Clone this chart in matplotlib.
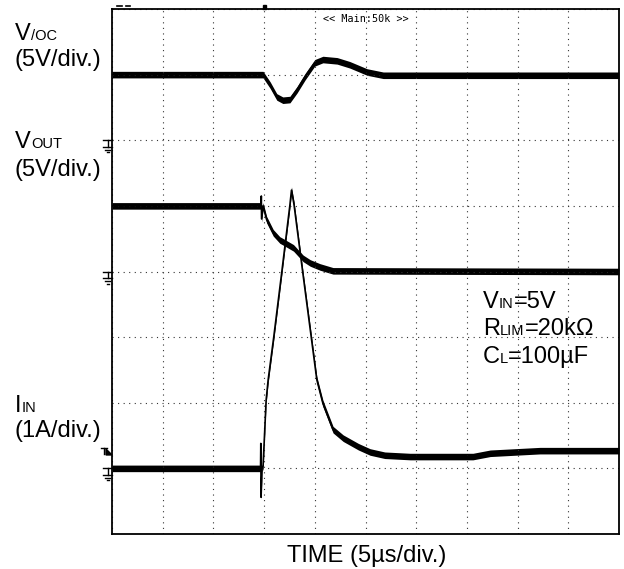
import numpy as np
import matplotlib.pyplot as plt
from matplotlib.lines import Line2D
from matplotlib.patches import Polygon
from matplotlib.transforms import IdentityTransform

plt.rcParams['font.family'] = ['Liberation Sans', 'DejaVu Sans']

# time in screen divisions (5us/div), amplitude in screen divisions from bottom
voc_t = [0, 2.98, 3.12, 3.25, 3.37, 3.51, 3.65, 3.81, 4.0, 4.16, 4.44, 4.69, 5.03, 5.35, 10]
voc_v = [7.0, 7.0, 6.84, 6.66, 6.61, 6.62, 6.77, 6.97, 7.18, 7.23, 7.21, 7.15, 7.04, 6.99, 6.99]

vout_t = [0, 2.94, 2.945, 2.95, 2.98, 3.05, 3.18, 3.31, 3.38, 3.58, 3.77, 3.91, 4.1, 4.36, 10]
vout_v = [5.0, 5.0, 5.15, 4.8, 5.0, 4.79, 4.59, 4.48, 4.45, 4.36, 4.2, 4.13, 4.07, 4.01, 4.0]

iin_t = [0, 2.93, 2.935, 2.94, 2.96, 2.98, 3.04, 3.08, 3.19, 3.35, 3.51, 3.54, 3.59, 3.76,
         4.04, 4.16, 4.36, 4.56, 4.86, 5.09, 5.38, 5.88, 7.12, 7.46, 8.44, 10]
iin_v = [1.0, 1.0, 1.38, 0.56, 1.0, 1.04, 2.04, 2.35, 3.0, 4.0, 5.02, 5.24, 5.02, 4.0,
         2.35, 1.99, 1.59, 1.46, 1.33, 1.25, 1.2, 1.18, 1.18, 1.23, 1.27, 1.27]

ground_levels = [6, 4, 1]   # VOC, VOUT, IIN ground markers
trig_level = 1.25
trig_time = 3.0

W, H = 624, 569
fig = plt.figure(figsize=(W / 100, H / 100), dpi=100)
ax = fig.add_axes([112 / W, 1 - 534 / H, 507 / W, 525 / H])
ax.set_xlim(0, 10)
ax.set_ylim(0, 8)
ax.set_xticks(range(11))
ax.set_yticks(range(9))
ax.tick_params(length=0, labelbottom=False, labelleft=False)
ax.grid(True, color='#333333', linewidth=0.8, linestyle=(0, (1, 4)))
for s in ax.spines.values():
    s.set_linewidth(1.3)

# traces: thin line + vertical noise band
tt = np.linspace(0, 10, 6000)
for t, v in [(voc_t, voc_v), (vout_t, vout_v), (iin_t, iin_v)]:
    yy = np.interp(tt, t, v)
    ax.fill_between(tt, yy - 0.05, yy + 0.05, color='black', linewidth=0)
    ax.plot(t, v, color='black', linewidth=1.2)


def px(x, y):
    return x, H - y


def pline(xs, ys, lw=1.0):
    fig.add_artist(Line2D(xs, [H - y for y in ys], transform=IdentityTransform(),
                          color='black', linewidth=lw))


# ground markers left of the screen
for g in ground_levels:
    y0 = H - ax.transData.transform((0, g))[1]
    pline([103, 112], [y0, y0])
    pline([107.5, 107.5], [y0, y0 + 6.5])
    pline([103, 112], [y0 + 6.5, y0 + 6.5])
    pline([105, 110], [y0 + 9.5, y0 + 9.5])
    pline([106.5, 108.5], [y0 + 12, y0 + 12])

# trigger level marker
ty = H - ax.transData.transform((0, trig_level))[1]
pline([101, 107], [ty - 4, ty - 4])
pline([104, 104], [ty - 4, ty + 2])
fig.add_artist(Polygon([px(106, ty - 3), px(112, ty + 3), px(106, ty + 3)],
                       closed=True, transform=IdentityTransform(), color='black'))

# trigger position marker and scope marks above the screen
tx = ax.transData.transform((trig_time, 0))[0]
fig.add_artist(Polygon([px(tx - 1.5, 5), px(tx + 1.5, 5), px(tx + 1.5, 9), px(tx - 1.5, 9)],
                       closed=True, transform=IdentityTransform(), color='black'))
pline([117, 122], [6, 6], lw=1.2)
pline([126, 130], [6, 6], lw=1.2)

fig.text(323, H - 22, '<< Main:50k >>', fontsize=7.3, family='DejaVu Sans Mono',
         transform=IdentityTransform(), va='baseline', ha='left')

renderer = fig.canvas.get_renderer()


def label(x, y, parts, size=17):
    for s, sub in parts:
        t = fig.text(x, H - y, s, fontsize=size * 0.62 if sub else size,
                     transform=IdentityTransform(), va='baseline', ha='left')
        x += t.get_window_extent(renderer).width


label(15, 40, [('V', False), ('/OC', True)])
label(15, 66, [('(5V/div.)', False)])
label(15, 148, [('V', False), ('OUT', True)])
label(15, 176, [('(5V/div.)', False)])
label(15, 412, [('I', False), ('IN', True)])
label(15, 437, [('(1A/div.)', False)])

label(483, 308, [('V', False), ('IN', True), ('=5V', False)])
label(483, 335, [('R', False), ('LIM', True), ('=20kΩ', False)])
label(483, 363, [('C', False), ('L', True), ('=100µF', False)])

fig.text(367, H - 562, 'TIME (5µs/div.)', fontsize=17, transform=IdentityTransform(),
         va='baseline', ha='center')

fig.savefig('out.png', dpi=100)
